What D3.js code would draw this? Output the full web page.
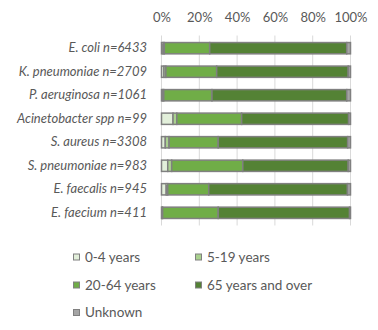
<!DOCTYPE html>
<html>
<head>
<meta charset="utf-8">
<script src="https://cdn.jsdelivr.net/npm/d3@7"></script>
<style>
  html, body { margin: 0; padding: 0; background: #fff; }
  svg text { font-family: Lato, "Liberation Sans", sans-serif; fill: #595959; }
</style>
</head>
<body>
<svg id="chart" width="378" height="330"></svg>
<script>
// Pathogen isolates, share by patient age group (%)
const categories = [
  "E. coli n=6433",
  "K. pneumoniae n=2709",
  "P. aeruginosa n=1061",
  "Acinetobacter spp n=99",
  "S. aureus n=3308",
  "S. pneumoniae n=983",
  "E. faecalis n=945",
  "E. faecium n=411"
];
const ageGroups = ["0-4 years", "5-19 years", "20-64 years", "65 years and over", "Unknown"];
const age0to4   = [0.8, 1.3, 0.5, 6.1, 2.0, 3.3, 2.5, 0.3];
const age5to19  = [0.7, 1.0, 0.7, 2.0, 2.0, 2.1, 0.8, 0.3];
const age20to64 = [24.0, 26.9, 25.5, 34.3, 26.0, 37.6, 21.7, 29.4];
const age65plus = [72.5, 69.6, 71.3, 56.6, 68.5, 55.8, 73.4, 69.5];
const unknown   = [2.0, 1.2, 2.0, 1.0, 1.5, 1.2, 1.6, 0.5];
const tickValues = [0, 20, 40, 60, 80, 100];
const colors = ["#e2efda", "#a9d18e", "#70ad47", "#548235", "#a5a5a5"];

const seriesValues = [age0to4, age5to19, age20to64, age65plus, unknown];
const rows = categories.map((c, i) => {
  const r = { category: c };
  ageGroups.forEach((g, k) => { r[g] = seriesValues[k][i]; });
  return r;
});

const svg = d3.select("#chart");
const x = d3.scaleLinear().domain([0, 100]).range([161.5, 350.5]);
const y = d3.scaleBand().domain(categories).range([35.5, 225.5])
  .paddingInner(0.52).paddingOuter(0.3);
const color = d3.scaleOrdinal().domain(ageGroups).range(colors);

// vertical gridlines
svg.append("g").selectAll("line").data(tickValues).join("line")
  .attr("x1", d => x(d)).attr("x2", d => x(d))
  .attr("y1", 35.5).attr("y2", 225.5)
  .attr("stroke", "#d9d9d9").attr("stroke-width", 1);

// top axis labels
const xAxis = d3.axisTop(x).tickValues(tickValues).tickFormat(d => d + "%").tickSize(0).tickPadding(0);
const gx = svg.append("g").attr("transform", "translate(0,21.5)").call(xAxis);
gx.select(".domain").remove();
gx.selectAll("text").attr("font-size", "13px").style("font-family", "Lato, sans-serif").attr("fill", "#595959");

// category labels
const yAxis = d3.axisLeft(y).tickSize(0).tickPadding(0);
const gy = svg.append("g").attr("transform", "translate(147,0)").call(yAxis);
gy.select(".domain").remove();
gy.selectAll("text").attr("font-size", "13px").attr("font-style", "italic")
  .style("font-family", "Lato, sans-serif").attr("fill", "#595959");

// stacked bars
const stacked = d3.stack().keys(ageGroups)(rows);
svg.append("g").selectAll("g").data(stacked).join("g")
  .attr("fill", d => color(d.key))
  .selectAll("rect").data(d => d).join("rect")
  .attr("x", d => x(d[0]))
  .attr("width", d => Math.max(0, x(d[1]) - x(d[0])))
  .attr("y", d => y(d.data.category))
  .attr("height", y.bandwidth())
  .attr("stroke", "#808080").attr("stroke-width", 1.5);

// legend
const legendPos = [
  [73, 257], [195, 257], [73, 285], [195, 285], [73, 312.5]
];
const lg = svg.append("g").selectAll("g").data(ageGroups).join("g")
  .attr("transform", (d, i) => `translate(${legendPos[i][0]},${legendPos[i][1]})`);
lg.append("rect").attr("x", 0.5).attr("y", -3).attr("width", 6).attr("height", 6)
  .attr("fill", d => color(d)).attr("stroke", "#808080").attr("stroke-width", 1);
lg.append("text").attr("x", 12).attr("y", 0).attr("dy", "0.35em")
  .attr("font-size", "13.5px").text(d => d);
</script>
</body>
</html>
